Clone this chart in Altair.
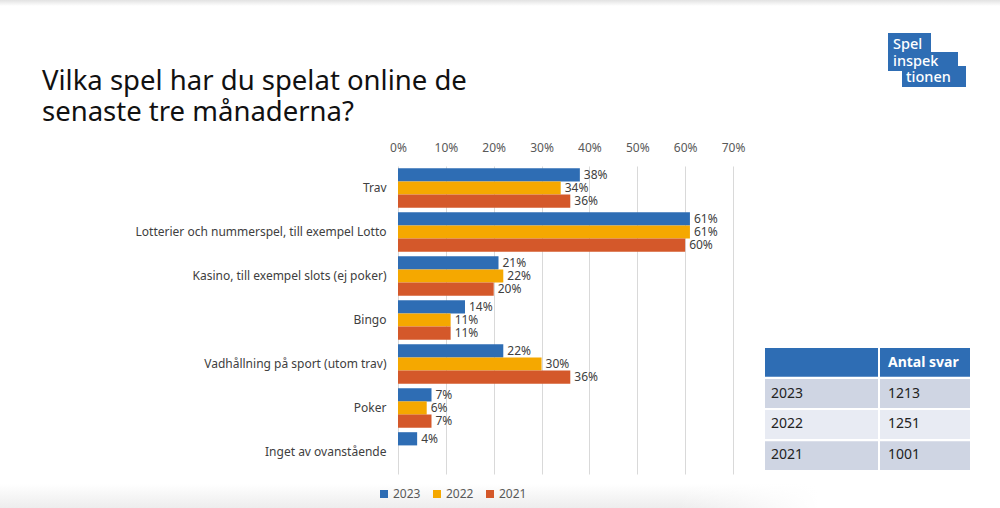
import altair as alt
import pandas as pd

FONT = "Noto Sans"

categories = [
    "Trav",
    "Lotterier och nummerspel, till exempel Lotto",
    "Kasino, till exempel slots (ej poker)",
    "Bingo",
    "Vadhållning på sport (utom trav)",
    "Poker",
    "Inget av ovanstående",
]
years = ["2023", "2022", "2021"]
v2023 = [38, 61, 21, 14, 22, 7, 4]
v2022 = [34, 61, 22, 11, 30, 6, None]
v2021 = [36, 60, 20, 11, 36, 7, None]
colors = ["#2E6DB4", "#F5A800", "#D4582A"]

table_years = ["2023", "2022", "2021"]
antal_svar = [1213, 1251, 1001]
table_header = "Antal svar"

title_lines = ["Vilka spel har du spelat online de", "senaste tre månaderna?"]
logo_lines = ["Spel", "inspek", "tionen"]

rows = []
for cat, a, b, c in zip(categories, v2023, v2022, v2021):
    for yr, v in zip(years, [a, b, c]):
        if v is not None:
            rows.append({"cat": cat, "year": yr, "value": v, "label": f"{v}%"})
df = pd.DataFrame(rows)

tbl = pd.DataFrame({"row": table_years, "antal": [str(a) for a in antal_svar]})
tbl_head = pd.DataFrame({"row": ["head"], "antal": [table_header]})
row_domain = ["head"] + table_years

yscale = alt.Scale(domain=categories, paddingInner=0.1, paddingOuter=0.05)
xscale = alt.Scale(domain=[0, 70], nice=False)
yaxis = alt.Axis(title=None, labelFontSize=12, labelColor="#404040", labelPadding=12,
                 ticks=False, domain=False, labelLimit=400, labelFont=FONT)
xaxis = alt.Axis(orient="top", values=[0, 10, 20, 30, 40, 50, 60, 70],
                 labelExpr="datum.value + '%'", title=None, grid=True, labelFlush=False,
                 gridColor="#d9d9d9", ticks=False, domain=False, labelPadding=12,
                 labelColor="#595959", labelFontSize=12, labelFont=FONT)

bars = alt.Chart(df).mark_bar().encode(
    y=alt.Y("cat:N", sort=categories, scale=yscale, axis=yaxis),
    yOffset=alt.YOffset("year:N", scale=alt.Scale(domain=years)),
    x=alt.X("value:Q", scale=xscale, axis=xaxis),
    color=alt.Color("year:N", scale=alt.Scale(domain=years, range=colors),
                    legend=alt.Legend(title=None, orient="none", legendX=-20, legendY=322,
                                      direction="horizontal", symbolType="square", symbolSize=64,
                                      symbolStrokeWidth=0, labelFontSize=12, labelColor="#595959",
                                      labelFont=FONT, columnPadding=10, labelOffset=3)),
)

labels = alt.Chart(df).mark_text(align="left", dx=4, baseline="middle", fontSize=12,
                                  color="#404040", font=FONT).encode(
    y=alt.Y("cat:N", sort=categories, scale=yscale, axis=yaxis),
    yOffset=alt.YOffset("year:N", scale=alt.Scale(domain=years)),
    x=alt.X("value:Q", scale=xscale, axis=xaxis),
    text="label:N",
)

main = alt.layer(bars, labels)

# table
tscale = alt.Scale(domain=row_domain, range=[182, 304], paddingInner=0.07, paddingOuter=0)
ty = alt.Y("row:N", scale=tscale, axis=None)

t_head1 = alt.Chart(tbl_head).mark_rect(color="#2E6DB4").encode(
    y=ty, x=alt.value(367), x2=alt.value(480))
t_head2 = alt.Chart(tbl_head).mark_rect(color="#2E6DB4").encode(
    y=ty, x=alt.value(482), x2=alt.value(572))
t_dark1 = alt.Chart(tbl).transform_filter("datum.row != '2022'").mark_rect(color="#CFD5E3").encode(
    y=ty, x=alt.value(367), x2=alt.value(480))
t_dark2 = alt.Chart(tbl).transform_filter("datum.row != '2022'").mark_rect(color="#CFD5E3").encode(
    y=ty, x=alt.value(482), x2=alt.value(572))
t_light1 = alt.Chart(tbl).transform_filter("datum.row == '2022'").mark_rect(color="#E8EBF3").encode(
    y=ty, x=alt.value(367), x2=alt.value(480))
t_light2 = alt.Chart(tbl).transform_filter("datum.row == '2022'").mark_rect(color="#E8EBF3").encode(
    y=ty, x=alt.value(482), x2=alt.value(572))
t_years = alt.Chart(tbl).mark_text(align="left", baseline="middle", fontSize=14, color="#222222",
                                   font=FONT).encode(y=ty, x=alt.value(373), text="row:N")
t_vals = alt.Chart(tbl).mark_text(align="left", baseline="middle", fontSize=14, color="#222222",
                                  font=FONT).encode(y=ty, x=alt.value(490), text="antal:N")
t_headtxt = alt.Chart(tbl_head).mark_text(align="left", baseline="middle", fontSize=14,
                                          fontWeight="bold", color="white", font=FONT).encode(
    y=ty, x=alt.value(490), text="antal:N")

one = alt.Data(values=[{}])
title = alt.Chart(one).mark_text(align="left", baseline="alphabetic", fontSize=27.5, lineHeight=31,
                                 color="#111111", font=FONT).encode(
    x=alt.value(-356), y=alt.value(-76), text=alt.value(title_lines))

logo_blue = "#2E6DB4"
logo_a = alt.Chart(one).mark_rect(color=logo_blue).encode(
    x=alt.value(490), x2=alt.value(533), y=alt.value(-133), y2=alt.value(-112))
logo_b = alt.Chart(one).mark_rect(color=logo_blue).encode(
    x=alt.value(490), x2=alt.value(560), y=alt.value(-114), y2=alt.value(-95))
logo_c = alt.Chart(one).mark_rect(color=logo_blue).encode(
    x=alt.value(504), x2=alt.value(568), y=alt.value(-100), y2=alt.value(-79))
logo_text = dict(align="left", baseline="alphabetic", fontSize=14.5, color="white", font=FONT,
                 fontWeight=500)
logo_t1 = alt.Chart(one).mark_text(**logo_text).encode(
    x=alt.value(495), y=alt.value(-117), text=alt.value(logo_lines[0]))
logo_t2 = alt.Chart(one).mark_text(**logo_text).encode(
    x=alt.value(495), y=alt.value(-100), text=alt.value(logo_lines[1]))
logo_t3 = alt.Chart(one).mark_text(**logo_text).encode(
    x=alt.value(508), y=alt.value(-84), text=alt.value(logo_lines[2]))

shadow_top = alt.Chart(one).mark_rect(
    color=alt.LinearGradient(gradient="linear", x1=0, x2=0, y1=0, y2=1,
                             stops=[alt.GradientStop(color="#e2e2e2", offset=0),
                                    alt.GradientStop(color="#ffffff", offset=1)])).encode(
    x=alt.value(-398), x2=alt.value(602), y=alt.value(-166), y2=alt.value(-160))
shadow_bot = alt.Chart(one).mark_rect(
    color=alt.LinearGradient(gradient="linear", x1=0, x2=0, y1=0, y2=1,
                             stops=[alt.GradientStop(color="#ffffff", offset=0),
                                    alt.GradientStop(color="#ededed", offset=1)])).encode(
    x=alt.value(-398), x2=alt.value(420), y=alt.value(318), y2=alt.value(342))
shadow_fade = alt.Chart(one).mark_rect(
    color=alt.LinearGradient(gradient="linear", x1=0, x2=1, y1=0, y2=0,
                             stops=[alt.GradientStop(color="rgba(255,255,255,0)", offset=0),
                                    alt.GradientStop(color="rgba(255,255,255,1)", offset=1)])).encode(
    x=alt.value(280), x2=alt.value(421), y=alt.value(318), y2=alt.value(342))

chart = alt.layer(
    shadow_top, shadow_bot, shadow_fade, title, logo_a, logo_b, logo_c, logo_t1, logo_t2, logo_t3,
    t_head1, t_head2, t_dark1, t_dark2, t_light1, t_light2, t_years, t_vals, t_headtxt,
    main,
).resolve_scale(
    y="independent"
).properties(
    width=335, height=308,
    padding={"left": 398, "top": 166, "right": 267, "bottom": 34},
    autosize=alt.AutoSizeParams(type="none"),
    background="white",
).configure_view(stroke=None)

chart.save("out.html", embed_options={"renderer": "svg", "actions": False})
